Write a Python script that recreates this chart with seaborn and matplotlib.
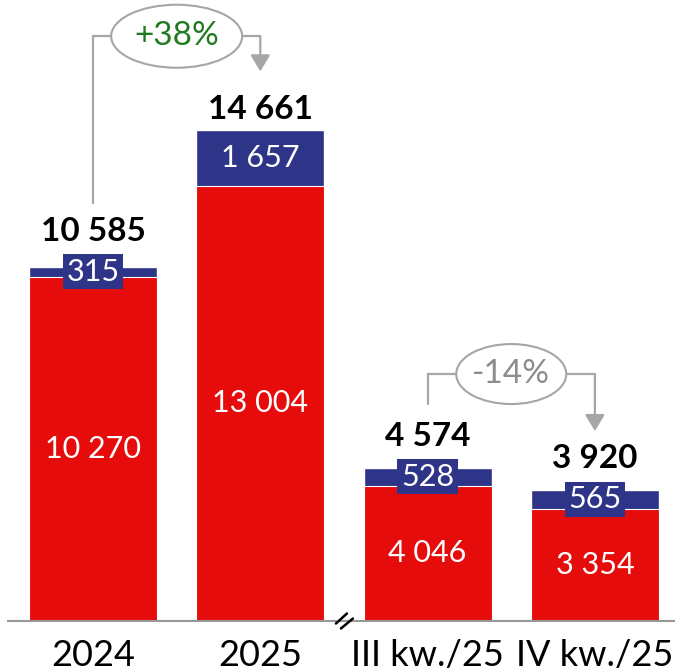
import matplotlib
matplotlib.use('Agg')
import matplotlib.pyplot as plt
from matplotlib.patches import Ellipse
import seaborn as sns
import numpy as np

# data
labels = ['2024', '2025', 'III kw./25', 'IV kw./25']
red_vals = [10270, 13004, 4046, 3354]
blue_vals = [315, 1657, 528, 565]
totals = [10585, 14661, 4574, 3920]
change_pairs = [(0, 1), (2, 3)]
change_texts = ['+38%', '-14%']
change_colors = ['#1f7a1f', '#8c8c8c']

RED = '#e60c0c'
NAVY = '#2e3487'
GRAY = '#a6a6a6'


def fmt(v):
    return f"{v:,}".replace(',', ' ')


if __name__ == '__main__':
    sns.set_style('white')
    plt.rcParams['font.family'] = ['Lato', 'DejaVu Sans']

    W, H = 675, 671
    base_px = 50          # axis line height from bottom (px)
    step_px = 167.3       # distance between bar centres (px)
    c0_px = 93            # centre of first bar (px)
    per_px = 29.86        # value units per pixel

    fig = plt.figure(figsize=(W / 100, H / 100), dpi=100)
    ax = fig.add_axes([0, base_px / H, 1, (H - base_px) / H])

    sns.barplot(x=labels, y=totals, color=NAVY, saturation=1, width=0.765,
                ax=ax, zorder=1)
    sns.barplot(x=labels, y=red_vals, color=RED, saturation=1, width=0.765,
                edgecolor='white', linewidth=0.8, ax=ax, zorder=1)

    ax.set_xlim(-c0_px / step_px, (W - c0_px) / step_px)
    ax.set_ylim(0, (H - base_px) * per_px)

    for s in ['top', 'left', 'right']:
        ax.spines[s].set_visible(False)
    ax.spines['bottom'].set_color('#999999')
    ax.spines['bottom'].set_linewidth(1.5)
    ax.spines['bottom'].set_bounds(-(c0_px - 8) / step_px, (W - c0_px) / step_px)
    ax.set_yticks([])
    ax.set_xlabel('')
    ax.set_ylabel('')
    ax.tick_params(axis='x', length=0, pad=13, labelsize=26, colors='black')

    for i in range(len(labels)):
        # red segment value
        ax.text(i, red_vals[i] / 2, fmt(red_vals[i]), ha='center', va='center',
                color='white', fontsize=22)
        # blue segment value with box
        ax.text(i, red_vals[i] + blue_vals[i] / 2, fmt(blue_vals[i]),
                ha='center', va='center', color='white', fontsize=22,
                bbox=dict(boxstyle='square,pad=0.12', fc=NAVY, ec='none'))
        # total on top
        blue_px = blue_vals[i] / per_px
        off = max(0, 20 - blue_px / 2) + 11
        ax.annotate(fmt(totals[i]), xy=(i, totals[i]), xytext=(0, off),
                    textcoords='offset pixels', ha='center', va='baseline',
                    fontsize=24, fontweight='bold', color='black')

    # change connectors
    ell_sizes = [(131, 63), (110, 60)]
    for (a, b), txt, col, (ew, eh) in zip(change_pairs, change_texts,
                                          change_colors, ell_sizes):
        top = max(totals[a], totals[b]) + 2800
        start = totals[a] + 1900
        tip = totals[b] + 1750
        ax.plot([a, a, b], [start, top, top], color=GRAY, lw=1.6,
                solid_joinstyle='miter', zorder=3)
        ax.annotate('', xy=(b, tip), xytext=(b, top),
                    arrowprops=dict(arrowstyle='-|>,head_length=0.5,head_width=0.3',
                                    color=GRAY, lw=1.6, shrinkA=0, shrinkB=0,
                                    mutation_scale=20), zorder=3)
        ax.add_patch(Ellipse(((a + b) / 2, top), ew / step_px, eh * per_px,
                             fc='white', ec=GRAY, lw=1.5, zorder=4,
                             clip_on=False))
        ax.text((a + b) / 2, top, txt, ha='center', va='center', color=col,
                fontsize=24, zorder=5)

    # axis break mark
    bx = 1.5
    dx = 1 / step_px
    dy = per_px
    for (x1, y1, x2, y2) in [(-8, -2.5, 3, 7.5), (-3, -7.5, 9, 2.5)]:
        ax.plot([bx + x1 * dx, bx + x2 * dx], [y1 * dy, y2 * dy], color='black',
                lw=1.8, clip_on=False, zorder=5)

    plt.savefig('out.png', dpi=100)
